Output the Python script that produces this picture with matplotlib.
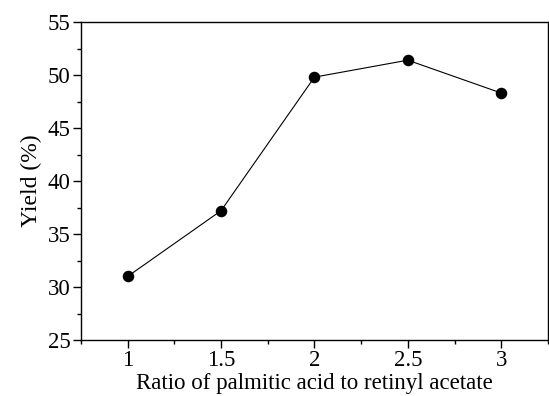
import numpy as np
import matplotlib.pyplot as plt
from matplotlib.ticker import MultipleLocator

# data
ratio = [1.0, 1.5, 2.0, 2.5, 3.0]
yield_pct = [31.0, 37.2, 49.8, 51.4, 48.3]

plt.rcParams["font.family"] = ["Liberation Serif", "DejaVu Serif"]

fig = plt.figure(figsize=(5.49, 3.96), dpi=100)
ax = fig.add_axes([0.1475, 0.1414, 0.8505, 0.803])

ax.plot(ratio, yield_pct, color="black", linewidth=0.8,
        marker="o", markersize=7.3, markerfacecolor="black")

ax.set_xlim(0.75, 3.25)
ax.set_ylim(25, 55)
ax.xaxis.set_major_locator(MultipleLocator(0.5))
ax.xaxis.set_minor_locator(MultipleLocator(0.25))
ax.yaxis.set_major_locator(MultipleLocator(5))
ax.yaxis.set_minor_locator(MultipleLocator(2.5))
ax.set_xticks(ratio)
ax.set_xticklabels(["1", "1.5", "2", "2.5", "3"])

ax.tick_params(which="major", direction="out", length=5.5, width=1,
               labelsize=16.5, pad=2)
ax.tick_params(which="minor", direction="out", length=3, width=1)
for s in ax.spines.values():
    s.set_linewidth(1.0)

ax.set_xlabel("Ratio of palmitic acid to retinyl acetate", fontsize=16.5, labelpad=1)
ax.set_ylabel("Yield (%)", fontsize=17, labelpad=4)

fig.savefig("out.png", dpi=100)
